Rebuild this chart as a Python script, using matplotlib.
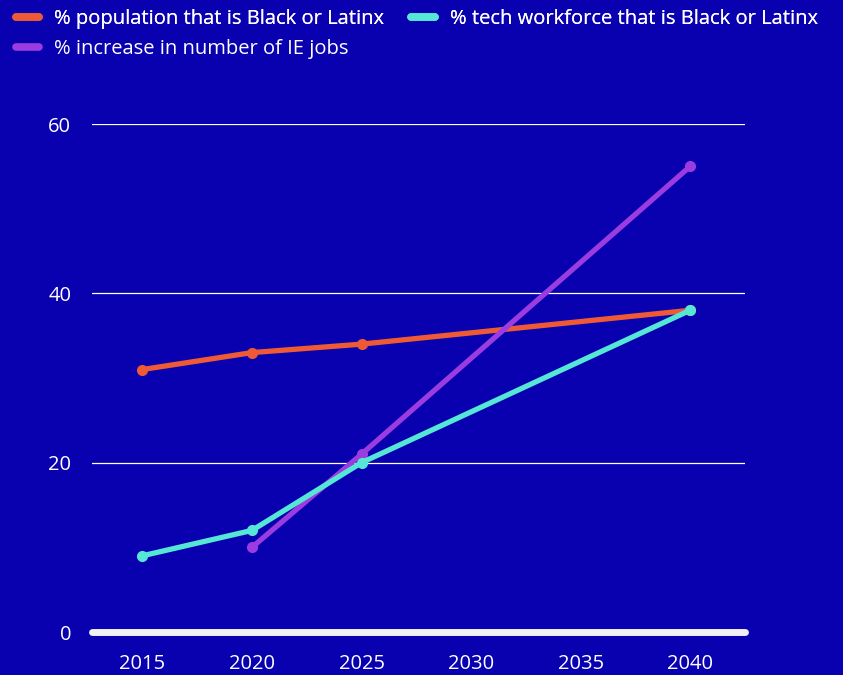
import matplotlib
matplotlib.use("Agg")
import matplotlib.pyplot as plt
import numpy as np
from matplotlib.lines import Line2D

plt.rcParams['font.family'] = ['Open Sans', 'DejaVu Sans']

years_pop = [2015, 2020, 2025, 2040]
pop = [31, 33, 34, 38]
years_tech = [2015, 2020, 2025, 2040]
tech = [9, 12, 20, 38]
years_ie = [2020, 2025, 2040]
ie = [10, 21, 55]

xticks = [2015, 2020, 2025, 2030, 2035, 2040]
yticks = [0, 20, 40, 60]

bg = '#0900AF'
c_pop = '#EE5A35'
c_tech = '#55E6D6'
c_ie = '#9A3CE0'
fs = 14.5

fig = plt.figure(figsize=(8.43, 6.75), dpi=100, facecolor=bg)
ax = fig.add_axes([92/843, 43/675, (745-92)/843, (632-124)/675])
ax.set_facecolor(bg)

for y in yticks[1:]:
    ax.axhline(y, color='white', lw=0.9, zorder=1)
ax.plot([0, 1], [0, 0], transform=ax.get_yaxis_transform(), color='#F0F0F5', lw=5,
        solid_capstyle='round', clip_on=False, zorder=2)

l1, = ax.plot(years_pop, pop, color=c_pop, lw=3.8, marker='o', ms=7, zorder=3, clip_on=False,
              label='% population that is Black or Latinx')
l2, = ax.plot(years_tech, tech, color=c_tech, lw=3.8, marker='o', ms=7, zorder=4, clip_on=False,
              label='% tech workforce that is Black or Latinx')
l3, = ax.plot(years_ie, ie, color=c_ie, lw=3.8, marker='o', ms=7, zorder=3, clip_on=False,
              label='% increase in number of IE jobs')

ax.set_xlim(2012.7, 2042.5)
ax.set_ylim(0, 60)
ax.set_xticks(xticks)
ax.set_yticks(yticks)
for s in ax.spines.values():
    s.set_visible(False)
ax.tick_params(axis='both', length=0, colors='white', labelsize=fs)
ax.tick_params(axis='x', pad=15.5)
ax.tick_params(axis='y', pad=15)

handles = [Line2D([], [], color=c, lw=5.5, solid_capstyle='round') for c in (c_pop, c_tech, c_ie)]
labels = [l1.get_label(), l2.get_label(), l3.get_label()]
kw = dict(frameon=False, labelcolor='white', handlelength=1.15,
          handletextpad=0.75, borderpad=0, borderaxespad=0, prop={'size': fs})
leg = fig.legend(handles[:2], labels[:2], loc='upper left', bbox_to_anchor=(16/843, 1 - 9/675), ncol=2,
                 columnspacing=1.35, **kw)
leg2 = fig.legend(handles[2:], labels[2:], loc='upper left', bbox_to_anchor=(16/843, 1 - 39/675), **kw)
fig.add_artist(leg)

fig.savefig('out.png', dpi=100, facecolor=bg)
